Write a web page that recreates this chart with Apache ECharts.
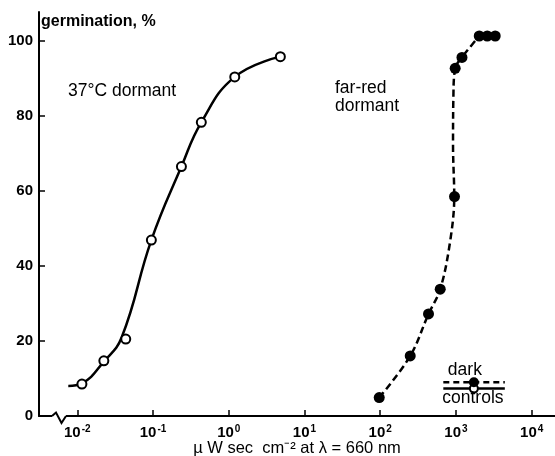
<!DOCTYPE html>
<html>
<head>
<meta charset="utf-8">
<script src="https://cdn.jsdelivr.net/npm/echarts@6/dist/echarts.min.js"></script>
<style>
  html, body { margin: 0; padding: 0; background: #fff; }
  #main { width: 555px; height: 456px; }
</style>
</head>
<body>
<div id="main"></div>
<script>
// values (x in uW sec cm-2, y in % germination)
const dormant37X = [0.0115, 0.0224, 0.0436, 0.095, 0.237, 0.434, 1.2, 4.8];
const dormant37Y = [8.5, 14.7, 20.5, 46.9, 66.5, 78.3, 90.4, 95.8];
// hand-drawn fit through the 37C points (starts a bit left of the first point)
const curve37X = [0.0076, 0.0115, 0.0224, 0.0386, 0.095, 0.237, 0.434, 1.2, 4.8];
const curve37Y = [8.0, 8.7, 14.5, 21, 46.9, 66.5, 78.3, 90.4, 95.8];

const farRedX = [97, 249, 434, 620, 957, 977, 1200, 2030, 2590, 3300];
const farRedY = [4.9, 16, 27.2, 33.8, 58.5, 92.7, 95.6, 101.3, 101.3, 101.3];
const farRedCurveX = [97, 249, 434, 620, 830, 950, 915, 925, 977, 1200, 2030];
const farRedCurveY = [4.9, 16, 27.2, 33.8, 46, 58.5, 72, 85, 92.7, 95.6, 101.3];

// dark controls marker
const controlLineX = [681, 4420];
const controlDarkY = 9.0;
const controlLightY = 7.3;
const controlX = 1725;

const xTickExp = [-2, -1, 0, 1, 2, 3, 4];
const yTicks = [0, 20, 40, 60, 80, 100];

const lg = v => Math.log10(v);
const pairs = (xs, ys) => xs.map((x, i) => [lg(x), ys[i]]);

const FONT = '"Liberation Sans", Arial, sans-serif';
const X_MIN = -2.506;

const chart = echarts.init(document.getElementById('main'), null, { renderer: 'canvas' });

chart.setOption({
  animation: false,
  backgroundColor: '#fff',
  textStyle: { fontFamily: FONT, color: '#000' },
  grid: { left: 39, right: 0, top: 12, bottom: 40, containLabel: false, outerBoundsMode: 'none' },
  xAxis: {
    type: 'value',
    min: X_MIN,
    max: 4.308,
    name: 'µ W sec  cm⁻² at λ = 660 nm',
    nameLocation: 'middle',
    nameGap: 24,
    nameMoveOverlap: false,
    nameTextStyle: { fontFamily: FONT, fontSize: 16.5, color: '#000' },
    axisLine: { onZero: false, lineStyle: { color: '#000', width: 2 } },
    axisTick: { inside: true, length: 6, customValues: xTickExp, lineStyle: { color: '#000', width: 1.5 } },
    axisLabel: {
      customValues: xTickExp,
      margin: 8,
      formatter: v => '{b|10}{s|' + Math.round(v) + '}',
      rich: {
        b: { fontFamily: FONT, fontSize: 15, fontWeight: 'bold', color: '#000', lineHeight: 17 },
        s: { fontFamily: FONT, fontSize: 10, fontWeight: 'bold', color: '#000', verticalAlign: 'top', lineHeight: 10, padding: [0, 0, 0, 1] }
      }
    },
    splitLine: { show: false }
  },
  yAxis: {
    type: 'value',
    min: 0,
    max: 107.7,
    axisLine: { show: true, onZero: false, lineStyle: { color: '#000', width: 2 } },
    axisTick: { show: true, inside: true, length: 6, customValues: yTicks, lineStyle: { color: '#000', width: 1.5 } },
    axisLabel: {
      customValues: yTicks,
      margin: 6,
      fontFamily: FONT, fontSize: 15, fontWeight: 'bold', color: '#000'
    },
    splitLine: { show: false }
  },
  series: [
    {
      type: 'line', smooth: 0.45, symbol: 'none', z: 2,
      lineStyle: { color: '#000', width: 2.5 },
      data: pairs(curve37X, curve37Y)
    },
    {
      type: 'scatter', symbol: 'circle', symbolSize: 9, z: 3,
      itemStyle: { color: '#fff', borderColor: '#000', borderWidth: 2, opacity: 1 },
      data: pairs(dormant37X, dormant37Y)
    },
    {
      type: 'line', smooth: 0.35, symbol: 'none', z: 2,
      lineStyle: { color: '#000', width: 2.5, type: [7, 4] },
      data: pairs(farRedCurveX, farRedCurveY)
    },
    {
      type: 'scatter', symbol: 'circle', symbolSize: 11, z: 3,
      itemStyle: { color: '#000', opacity: 1 },
      data: pairs(farRedX, farRedY)
    },
    {
      type: 'line', symbol: 'none', z: 2,
      lineStyle: { color: '#000', width: 2.5, type: [6, 4] },
      data: controlLineX.map(x => [lg(x), controlDarkY])
    },
    {
      type: 'line', symbol: 'none', z: 2,
      lineStyle: { color: '#000', width: 2.5 },
      data: controlLineX.map(x => [lg(x), controlLightY])
    },
    {
      type: 'scatter', symbol: 'circle', symbolSize: 10, z: 4,
      itemStyle: { color: '#000', opacity: 1 },
      data: [[lg(controlX), controlDarkY]]
    },
    {
      type: 'scatter', symbol: 'circle', symbolSize: 8, z: 3,
      itemStyle: { color: '#fff', borderColor: '#000', borderWidth: 2, opacity: 1 },
      data: [[lg(controlX), controlLightY]]
    }
  ]
});

// axis break mark and text annotations
const o = chart.convertToPixel({ gridIndex: 0 }, [X_MIN, 0]);
const ox = o[0], oy = o[1];
const toPx = (x, y) => chart.convertToPixel({ gridIndex: 0 }, [lg(x), y]);
const pDark = toPx(controlX, controlDarkY);
const pLight = toPx(controlX, controlLightY);

chart.setOption({
  graphic: [
    { type: 'rect', shape: { x: ox + 13, y: oy - 3, width: 14, height: 6 }, style: { fill: '#fff' }, z: 100 },
    {
      type: 'polyline', z: 101,
      shape: { points: [[ox + 13, oy], [ox + 17, oy - 3.5], [ox + 22.5, oy + 7], [ox + 27, oy]] },
      style: { stroke: '#000', lineWidth: 2, fill: null }
    },
    { type: 'text', left: 41, top: 14, z: 100,
      style: { text: 'germination, %', font: 'bold 16px ' + FONT, fill: '#000' } },
    { type: 'text', left: 68, top: 82, z: 100,
      style: { text: '37°C dormant', font: '17.5px ' + FONT, fill: '#000' } },
    { type: 'text', left: 335, top: 79, z: 100,
      style: { text: 'far-red\ndormant', font: '17.5px ' + FONT, fill: '#000', lineHeight: 18 } },
    { type: 'text', x: pDark[0] - 9, y: pDark[1] - 12, z: 100,
      style: { text: 'dark', font: '17.5px ' + FONT, fill: '#000', align: 'center', verticalAlign: 'middle' } },
    { type: 'text', x: pLight[0] - 1, y: pLight[1] + 10, z: 100,
      style: { text: 'controls', font: '17.5px ' + FONT, fill: '#000', align: 'center', verticalAlign: 'middle' } }
  ]
});
</script>
</body>
</html>
